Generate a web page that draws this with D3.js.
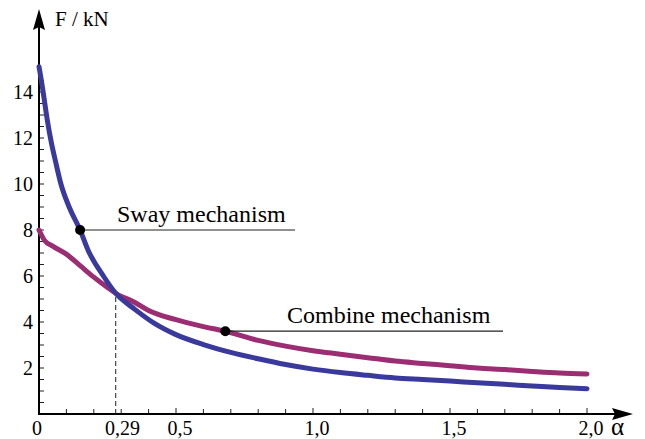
<!DOCTYPE html>
<meta charset="utf-8">
<head>
    <title>F - alpha</title>
    <script src="https://d3js.org/d3.v7.min.js"></script>
</head>
<style type="text/css">
body{
    margin: 0;
    background: #FFFFFF;
}
</style>
<body>
    <svg id="chart" width="645" height="439"></svg>

    <script type="text/javascript">
        // values
        var swayAlpha = [0, 0.01, 0.02, 0.03, 0.045, 0.06, 0.08, 0.11, 0.15, 0.18, 0.235, 0.28, 0.35, 0.42, 0.5, 0.6, 0.7, 0.8, 0.9, 1.0, 1.1, 1.2, 1.3, 1.4, 1.5, 1.6, 1.7, 1.8, 1.9, 2.0];
        var swayF     = [15.1, 14.4, 13.6, 12.8, 11.8, 11.0, 10.0, 9.0, 8.0, 7.1, 6.0, 5.25, 4.55, 3.95, 3.45, 3.02, 2.68, 2.4, 2.15, 1.95, 1.8, 1.68, 1.57, 1.5, 1.43, 1.36, 1.29, 1.22, 1.15, 1.1];

        var combAlpha = [0, 0.02, 0.05, 0.1, 0.15, 0.2, 0.25, 0.28, 0.35, 0.4, 0.5, 0.6, 0.68, 0.8, 0.9, 1.0, 1.1, 1.2, 1.3, 1.4, 1.5, 1.6, 1.7, 1.8, 1.9, 2.0];
        var combF     = [8.0, 7.55, 7.3, 6.95, 6.45, 5.95, 5.5, 5.25, 4.85, 4.5, 4.1, 3.8, 3.6, 3.2, 2.95, 2.75, 2.6, 2.45, 2.3, 2.2, 2.1, 2.0, 1.93, 1.85, 1.78, 1.74];

        var xTickLabels = [[0, "0"], [0.29, "0,29"], [0.5, "0,5"], [1.0, "1,0"], [1.5, "1,5"], [2.0, "2,0"]];
        var yTickLabels = [2, 4, 6, 8, 10, 12, 14];

        var crossPoint = [0.28, 5.25];
        var swayMark = [0.15, 8.0];
        var combMark = [0.68, 3.6];

        var serif = "'Liberation Serif', 'Times New Roman', serif";

        var svg = d3.select("#chart");

        var x = d3.scaleLinear().domain([0, 2]).range([39, 587]);
        var y = d3.scaleLinear().domain([0, 15]).range([414, 69]);

        var x0 = x(0), y0 = y(0);

        // minor ticks
        svg.append("g").selectAll("line")
            .data(d3.range(1, 21).map(function(i){ return i / 10; }))
            .enter().append("line")
            .attr("x1", function(d){ return x(d); })
            .attr("x2", function(d){ return x(d); })
            .attr("y1", y0)
            .attr("y2", function(d, i){ return (i + 1) % 5 == 0 ? y0 - 6 : y0 - 5; })
            .attr("stroke", "#222").attr("stroke-width", 1);

        svg.append("g").selectAll("line")
            .data(d3.range(1, 30).map(function(i){ return i / 2; }))
            .enter().append("line")
            .attr("x1", x0)
            .attr("x2", x0 + 5)
            .attr("y1", function(d){ return y(d); })
            .attr("y2", function(d){ return y(d); })
            .attr("stroke", "#222").attr("stroke-width", 1);

        // axes with arrows
        svg.append("line")
            .attr("x1", x0).attr("y1", y0).attr("x2", 620).attr("y2", y0)
            .attr("stroke", "#000").attr("stroke-width", 2);
        svg.append("path")
            .attr("d", "M633," + y0 + "L612," + (y0 - 6) + "L615," + y0 + "L612," + (y0 + 6) + "Z")
            .attr("fill", "#000");
        svg.append("line")
            .attr("x1", x0).attr("y1", y0 + 1).attr("x2", x0).attr("y2", 24)
            .attr("stroke", "#000").attr("stroke-width", 2);
        svg.append("path")
            .attr("d", "M" + x0 + ",9L" + (x0 - 6) + ",30L" + x0 + ",27L" + (x0 + 6) + ",30Z")
            .attr("fill", "#000");

        // tick labels
        svg.append("g").selectAll("text")
            .data(xTickLabels)
            .enter().append("text")
            .attr("x", function(d){ return x(d[0]) + (d[0] == 0 ? -2 : 4); })
            .attr("y", 435)
            .attr("text-anchor", "middle")
            .attr("font-family", serif)
            .style("font-size", "20px")
            .text(function(d){ return d[1]; });

        svg.append("g").selectAll("text")
            .data(yTickLabels)
            .enter().append("text")
            .attr("x", 33)
            .attr("y", function(d){ return y(d) + 7; })
            .attr("text-anchor", "end")
            .attr("font-family", serif)
            .style("font-size", "20px")
            .text(function(d){ return d; });

        svg.append("text").attr("x", 55).attr("y", 26)
            .attr("font-family", serif).style("font-size", "21px").text("F / kN");
        svg.append("text").attr("x", 611).attr("y", 435)
            .attr("font-family", serif).style("font-size", "25px").text("α");

        // dashed drop line
        svg.append("line")
            .attr("x1", x(crossPoint[0])).attr("x2", x(crossPoint[0]))
            .attr("y1", y0).attr("y2", y(crossPoint[1]))
            .attr("stroke", "#222").attr("stroke-width", 1)
            .attr("stroke-dasharray", "5,3");

        // curves
        var line = d3.line()
            .x(function(d){ return x(d[0]); })
            .y(function(d){ return y(d[1]); })
            .curve(d3.curveMonotoneX);

        svg.append("path")
            .datum(combAlpha.map(function(a, i){ return [a, combF[i]]; }))
            .attr("d", line)
            .attr("fill", "none")
            .attr("stroke", "#9b2d72")
            .attr("stroke-width", 5)
            .attr("stroke-linecap", "round");

        svg.append("path")
            .datum(swayAlpha.map(function(a, i){ return [a, swayF[i]]; }))
            .attr("d", line)
            .attr("fill", "none")
            .attr("stroke", "#3a3a9c")
            .attr("stroke-width", 5)
            .attr("stroke-linecap", "round");

        // annotations
        function annotate(pt, xEnd, label, tx) {
            svg.append("line")
                .attr("x1", x(pt[0])).attr("x2", xEnd)
                .attr("y1", y(pt[1])).attr("y2", y(pt[1]))
                .attr("stroke", "#222").attr("stroke-width", 1.2);
            svg.append("circle")
                .attr("cx", x(pt[0])).attr("cy", y(pt[1])).attr("r", 5)
                .attr("fill", "#000");
            svg.append("text")
                .attr("x", tx).attr("y", y(pt[1]) - 8)
                .attr("font-family", serif)
                .style("font-size", "24px")
                .text(label);
        }
        annotate(swayMark, 295, "Sway mechanism", 117);
        annotate(combMark, 503, "Combine mechanism", 287);
    </script>
</body>
